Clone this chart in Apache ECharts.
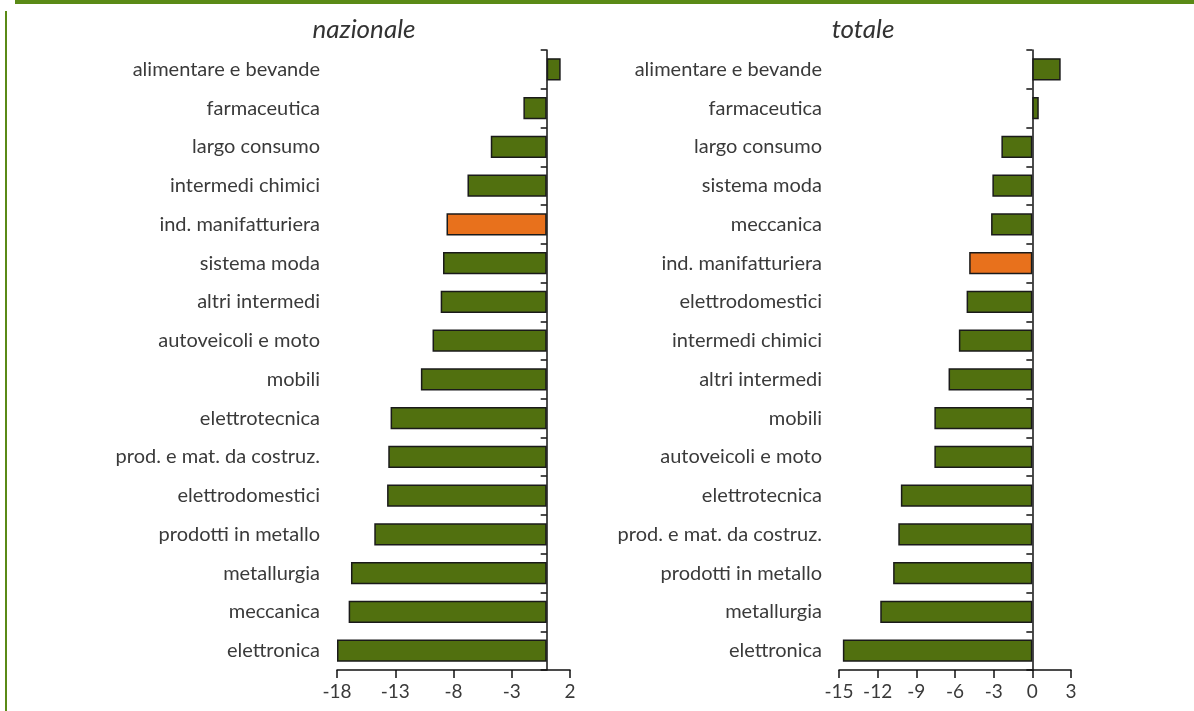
<!DOCTYPE html>
<html>
<head>
<meta charset="utf-8">
<script src="https://cdn.jsdelivr.net/npm/echarts@6/dist/echarts.min.js"></script>
<style>
html,body{margin:0;padding:0;background:#fff;}
#chart{width:1194px;height:711px;}
</style>
</head>
<body>
<div id="chart"></div>
<script>
// Left panel: "nazionale"
const catNaz = ['alimentare e bevande','farmaceutica','largo consumo','intermedi chimici','ind. manifatturiera','sistema moda','altri intermedi','autoveicoli e moto','mobili','elettrotecnica','prod. e mat. da costruz.','elettrodomestici','prodotti in metallo','metallurgia','meccanica','elettronica'];
const valNaz = [1.2, -2.0, -4.8, -6.8, -8.6, -8.9, -9.1, -9.8, -10.8, -13.4, -13.6, -13.7, -14.8, -16.8, -17.0, -18.0];
// Right panel: "totale"
const catTot = ['alimentare e bevande','farmaceutica','largo consumo','sistema moda','meccanica','ind. manifatturiera','elettrodomestici','intermedi chimici','altri intermedi','mobili','autoveicoli e moto','elettrotecnica','prod. e mat. da costruz.','prodotti in metallo','metallurgia','elettronica'];
const valTot = [2.2, 0.5, -2.4, -3.1, -3.2, -4.9, -5.1, -5.7, -6.5, -7.6, -7.6, -10.2, -10.4, -10.8, -11.8, -14.7];
const titles = ['nazionale','totale'];
const highlight = 'ind. manifatturiera';

const GREEN = '#51700f';
const ORANGE = '#e8711c';
const FONT = 'Lato, "Open Sans", sans-serif';

const chart = echarts.init(document.getElementById('chart'));

function catAxes(gridIndex, cats) {
  return [
    {
      type: 'category', gridIndex: gridIndex, data: cats, inverse: true,
      position: 'left',
      axisLine: {show: false, onZero: false}, axisTick: {show: false},
      axisLabel: {fontFamily: FONT, fontSize: 20, color: '#3a3a3a', margin: 17}
    },
    {
      type: 'category', gridIndex: gridIndex, data: cats, inverse: true,
      position: 'right',
      axisLine: {show: true, onZero: true, lineStyle: {color: '#111', width: 1.5}},
      axisTick: {show: true, inside: true, length: 6, lineStyle: {color: '#111', width: 1.5}},
      axisLabel: {show: false}
    }
  ];
}

function valAxis(gridIndex, min, max, interval) {
  return {
    type: 'value', gridIndex: gridIndex, min: min, max: max, interval: interval,
    splitLine: {show: false},
    axisLine: {show: true, onZero: false, lineStyle: {color: '#111', width: 1.5}},
    axisTick: {show: true, length: 8, lineStyle: {color: '#111', width: 1.5}},
    axisLabel: {fontFamily: FONT, fontSize: 19, color: '#3a3a3a', margin: 12}
  };
}

function barData(cats, vals) {
  return vals.map((v, i) => ({
    value: v,
    itemStyle: {color: cats[i] === highlight ? ORANGE : GREEN}
  }));
}

chart.setOption({
  animation: false,
  title: [
    {text: titles[0], left: 359, top: 12, textAlign: 'center',
     textStyle: {fontFamily: FONT, fontStyle: 'italic', fontWeight: 'normal', fontSize: 26, color: '#333'}},
    {text: titles[1], left: 858, top: 12, textAlign: 'center',
     textStyle: {fontFamily: FONT, fontStyle: 'italic', fontWeight: 'normal', fontSize: 26, color: '#333'}}
  ],
  grid: [
    {left: 337, right: 624, top: 50, bottom: 41, containLabel: false},
    {left: 839, right: 123, top: 50, bottom: 41, containLabel: false}
  ],
  xAxis: [valAxis(0, -18, 2, 5), valAxis(1, -15, 3, 3)],
  yAxis: catAxes(0, catNaz).concat(catAxes(1, catTot)),
  series: [
    {type: 'bar', xAxisIndex: 0, yAxisIndex: 0, data: barData(catNaz, valNaz),
     barCategoryGap: '42%', itemStyle: {borderColor: '#1a1a1a', borderWidth: 1.5}},
    {type: 'bar', xAxisIndex: 1, yAxisIndex: 2, data: barData(catTot, valTot),
     barCategoryGap: '42%', itemStyle: {borderColor: '#1a1a1a', borderWidth: 1.5}}
  ],
  graphic: [
    {type: 'rect', shape: {x: 15, y: 0, width: 1179, height: 4}, style: {fill: '#5a8a16'}, silent: true},
    {type: 'rect', shape: {x: 5, y: 11, width: 2, height: 700}, style: {fill: '#5a8a16'}, silent: true}
  ]
});
</script>
</body>
</html>
